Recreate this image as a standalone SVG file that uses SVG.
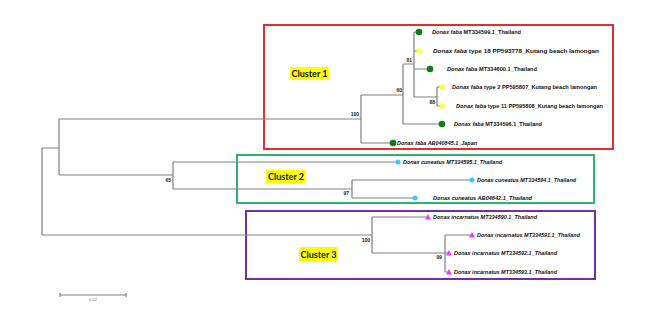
<svg xmlns="http://www.w3.org/2000/svg" width="645" height="312" viewBox="0 0 645 312">
<style>
.br{fill:none;stroke:#808080;stroke-width:1.2}
.lf{font-family:"Liberation Sans",Arial,sans-serif;font-size:5.6px;font-weight:bold;fill:#111}
.it{font-style:italic}
.bs{font-family:"Liberation Sans",Arial,sans-serif;font-size:5px;font-weight:bold;fill:#222}
.cl{font-family:Lato,"Open Sans",sans-serif;font-size:10px;font-weight:bold;fill:#111}
.hl{fill:#ffff00}
.box{fill:none;stroke-width:2}
.g{fill:#0d7d1a}
.y{fill:#ffff33}
.c{fill:#33ccff}
.m{fill:#ff33ff}
</style>
<rect width="645" height="312" fill="#ffffff"/>
<g id="boxes">
<rect class="box" x="264" y="25" width="349" height="124" stroke="#e52d2d"/>
<rect class="box" x="237" y="155" width="357" height="48" stroke="#2db36e"/>
<rect class="box" x="246" y="211" width="349" height="68" stroke="#7030a0"/>
</g>
<g id="connectors">
<path class="br" d="M42,148V235M42,148H59M59,119V175M59,119H361M361,95V143M361,95H403M403,64V124M403,64H414M414,32V97M414,32H419M414,51H419M414,69H430M414,97H437M437,87V106M437,87H442M437,106H442M403,124H442M361,143H393"/>
<path class="br" d="M59,175H173M173,162V189M173,162H398M173,189H352M352,180V198M352,180H472M352,198H415"/>
<path class="br" d="M42,235H372M372,217V253M372,217H428M372,253H445M445,235V272M445,235H472M445,253H449M445,272H449"/>
</g>
<g id="bootstrap">
<text class="bs" x="359" y="116" text-anchor="end">100</text>
<text class="bs" x="402" y="92" text-anchor="end">60</text>
<text class="bs" x="412" y="62" text-anchor="end">81</text>
<text class="bs" x="435" y="104" text-anchor="end">88</text>
<text class="bs" x="171" y="182" text-anchor="end">65</text>
<text class="bs" x="349" y="195" text-anchor="end">97</text>
<text class="bs" x="370" y="242" text-anchor="end">100</text>
<text class="bs" x="442" y="259" text-anchor="end">99</text>
</g>
<g id="cluster1-label"><rect class="hl" x="290" y="67" width="39" height="13"/><text class="cl" x="309.5" y="77" text-anchor="middle" textLength="36" lengthAdjust="spacingAndGlyphs">Cluster 1</text></g>
<g id="cluster2-label"><rect class="hl" x="266" y="170" width="40" height="13"/><text class="cl" x="286" y="180" text-anchor="middle" textLength="36" lengthAdjust="spacingAndGlyphs">Cluster 2</text></g>
<g id="cluster3-label"><rect class="hl" x="299" y="247" width="39" height="14"/><text class="cl" x="318.5" y="258" text-anchor="middle" textLength="36" lengthAdjust="spacingAndGlyphs">Cluster 3</text></g>
<g id="leaf-MT334599"><circle class="g" cx="419" cy="32" r="3.3"/><text class="lf" x="432" y="34" textLength="89" lengthAdjust="spacingAndGlyphs"><tspan class="it">Donax faba</tspan> MT334599.1_Thailand</text></g>
<g id="leaf-PP593778"><rect class="y" x="416.5" y="48.5" width="5" height="5"/><text class="lf" x="433" y="53" textLength="166" lengthAdjust="spacingAndGlyphs"><tspan class="it">Donax faba</tspan> type 18 PP593778_Kutang beach lamongan</text></g>
<g id="leaf-MT334600"><circle class="g" cx="430" cy="69" r="3.3"/><text class="lf" x="447" y="71" textLength="90" lengthAdjust="spacingAndGlyphs"><tspan class="it">Donax faba</tspan> MT334600.1_Thailand</text></g>
<g id="leaf-PP595807"><rect class="y" x="439.5" y="84.5" width="5" height="5"/><text class="lf" x="452" y="89" textLength="145" lengthAdjust="spacingAndGlyphs"><tspan class="it">Donax faba</tspan> type 2 PP595807_Kutang beach lamongan</text></g>
<g id="leaf-PP595808"><rect class="y" x="439.5" y="103.5" width="5" height="5"/><text class="lf" x="456" y="108" textLength="147" lengthAdjust="spacingAndGlyphs"><tspan class="it">Donax faba</tspan> type 11 PP595808_Kutang beach lamongan</text></g>
<g id="leaf-MT334596"><circle class="g" cx="442" cy="124" r="3.3"/><text class="lf" x="454" y="126" textLength="88" lengthAdjust="spacingAndGlyphs"><tspan class="it">Donax faba</tspan> MT334596.1_Thailand</text></g>
<g id="leaf-AB040845"><circle class="g" cx="393" cy="143" r="3.3"/><text class="lf it" x="397" y="145" textLength="80" lengthAdjust="spacingAndGlyphs">Donax faba AB040845.1_Japan</text></g>
<g id="leaf-MT334595"><circle class="c" cx="398" cy="162" r="2.5"/><text class="lf it" x="403" y="164" textLength="99" lengthAdjust="spacingAndGlyphs">Donax cuneatus MT334595.1_Thailand</text></g>
<g id="leaf-MT334594"><circle class="c" cx="472" cy="180" r="2.5"/><text class="lf it" x="477" y="182" textLength="99" lengthAdjust="spacingAndGlyphs">Donax cuneatus MT334594.1_Thailand</text></g>
<g id="leaf-AB04842"><circle class="c" cx="415" cy="198" r="2.5"/><text class="lf it" x="433" y="200" textLength="99" lengthAdjust="spacingAndGlyphs">Donax cuneatus AB04842.1_Thailand</text></g>
<g id="leaf-MT334590"><path class="m" d="M428,214L431,219.5H425Z"/><text class="lf it" x="433" y="219" textLength="104" lengthAdjust="spacingAndGlyphs">Donax incarnatus MT334590.1_Thailand</text></g>
<g id="leaf-MT334591"><path class="m" d="M472,232L475,237.5H469Z"/><text class="lf it" x="477" y="237" textLength="103" lengthAdjust="spacingAndGlyphs">Donax incarnatus MT334591.1_Thailand</text></g>
<g id="leaf-MT334592"><path class="m" d="M449,250L452,255.5H446Z"/><text class="lf it" x="454" y="255" textLength="103" lengthAdjust="spacingAndGlyphs">Donax incarnatus MT334592.1_Thailand</text></g>
<g id="leaf-MT334593"><path class="m" d="M449,269L452,274.5H446Z"/><text class="lf it" x="454" y="274" textLength="103" lengthAdjust="spacingAndGlyphs">Donax incarnatus MT334593.1_Thailand</text></g>
<g id="scale-bar">
<path class="br" d="M60,295H126M60,293V297M126,293V297" stroke="#555"/>
<text x="93" y="301" text-anchor="middle" font-family="Liberation Sans,Arial,sans-serif" font-size="4px" fill="#777">0.02</text>
</g>
</svg>
